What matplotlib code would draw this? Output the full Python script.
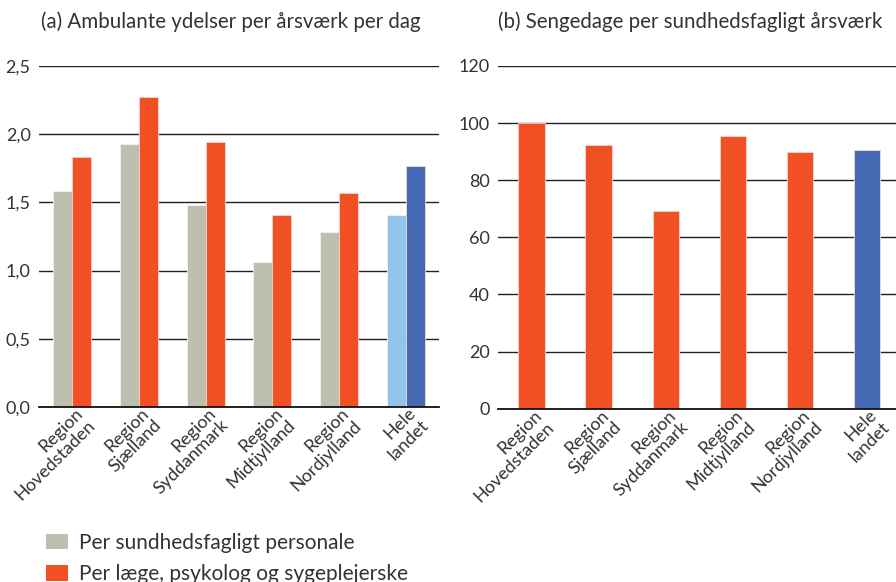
import matplotlib.pyplot as plt
import matplotlib.transforms as mt
import numpy as np
from matplotlib.patches import Patch

plt.rcParams['font.family'] = ['Lato', 'DejaVu Sans']

regioner = ['Region\nHovedstaden', 'Region\nSjælland', 'Region\nSyddanmark',
            'Region\nMidtjylland', 'Region\nNordjylland', 'Hele\nlandet']
sundhedsfagligt = [1.58, 1.93, 1.48, 1.06, 1.28, 1.41]
laege_psyk_syg = [1.835, 2.275, 1.94, 1.41, 1.565, 1.765]
sengedage = [100.0, 92.3, 69.1, 95.6, 90.0, 90.6]

graa = '#bebfaf'
roed = '#f05023'
lysblaa = '#92c5eb'
moerkblaa = '#4569b2'
tekst = '#333333'

fig = plt.figure(figsize=(8.96, 5.82), dpi=100)
ax1 = fig.add_axes([0.0435, 0.3007, 0.4465, 0.586])
ax2 = fig.add_axes([0.5558, 0.2978, 0.449, 0.5888])

x = np.arange(len(regioner))
w = 0.285
farver1 = [graa] * 5 + [lysblaa]
farver2 = [roed] * 5 + [moerkblaa]
ax1.bar(x - w/2, sundhedsfagligt, w, color=farver1, edgecolor='#f4f2ee', linewidth=0.6, zorder=3)
ax1.bar(x + w/2, laege_psyk_syg, w, color=farver2, edgecolor='#f8d8cc', linewidth=0.6, zorder=3)
ax1.set_ylim(0, 2.5)
ax1.set_yticks(np.arange(0, 2.51, 0.5))
ax1.set_yticklabels([f'{v:.1f}'.replace('.', ',') for v in np.arange(0, 2.51, 0.5)])

ax2.bar(x, sengedage, 0.39, color=[roed] * 5 + [moerkblaa], edgecolor='#f8d8cc', linewidth=0.6, zorder=3)
ax2.set_ylim(0, 120)
ax2.set_yticks(range(0, 121, 20))

off = mt.ScaledTranslation(2 / 100, 2 / 100, fig.dpi_scale_trans)
for ax in (ax1, ax2):
    ax.set_xlim(-0.5, 5.5)
    ax.set_xticks(x)
    ax.set_xticklabels(regioner, rotation=45, ha='right', va='top', rotation_mode='anchor',
                       multialignment='right', fontsize=13, color=tekst, linespacing=1.1)
    ax.tick_params(axis='both', length=0, colors=tekst)
    ax.tick_params(axis='y', labelsize=13, pad=6)
    ax.tick_params(axis='x', pad=0)
    ax.yaxis.grid(True, color='#222222', linewidth=1.0, zorder=1)
    for s in ['left', 'right', 'top']:
        ax.spines[s].set_visible(False)
    ax.spines['bottom'].set_color('#111111')
    ax.spines['bottom'].set_linewidth(1.3)
    ax.spines['bottom'].set_zorder(4)
    for lab in ax.get_xticklabels():
        lab.set_transform(lab.get_transform() + off)

fig.text(0.258, 0.962, '(a) Ambulante ydelser per årsværk per dag', ha='center', va='center',
         fontsize=14.8, color=tekst)
fig.text(0.770, 0.962, '(b) Sengedage per sundhedsfagligt årsværk', ha='center', va='center',
         fontsize=14.8, color=tekst)

handles = [Patch(facecolor=graa), Patch(facecolor=roed)]
leg = fig.legend(handles, ['Per sundhedsfagligt personale', 'Per læge, psykolog og sygeplejerske'],
                 loc='lower left', bbox_to_anchor=(0.030, -0.036), frameon=False,
                 prop={'size': 15}, handlelength=1.06, handleheight=0.75,
                 handletextpad=0.53, labelspacing=0.55, labelcolor=tekst)

fig.savefig('out.png', dpi=100)
